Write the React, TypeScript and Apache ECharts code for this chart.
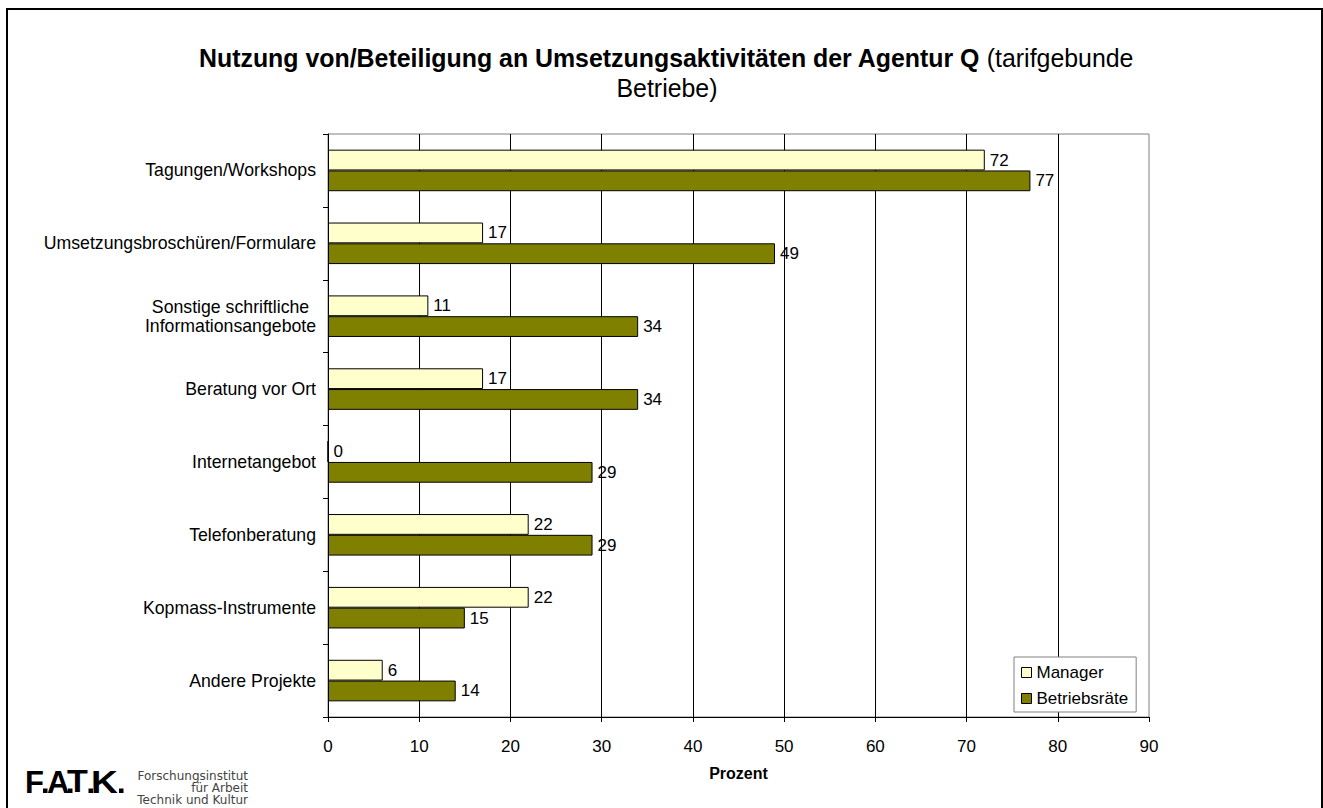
import React, { useEffect, useRef } from "react";
import * as echarts from "echarts";

const categories = [
  "Tagungen/Workshops",
  "Umsetzungsbroschüren/Formulare",
  "Sonstige schriftliche\nInformationsangebote",
  "Beratung vor Ort",
  "Internetangebot",
  "Telefonberatung",
  "Kopmass-Instrumente",
  "Andere Projekte",
];
const managerValues = [72, 17, 11, 17, 0, 22, 22, 6];
const betriebsraeteValues = [77, 49, 34, 34, 29, 29, 15, 14];
const seriesNames = ["Manager", "Betriebsräte"];
const xTicks = { min: 0, max: 90, interval: 10 };
const titleBold = "Nutzung von/Beteiligung an Umsetzungsaktivitäten der Agentur Q";
const titleNormal = " (tarifgebunde";
const titleLine2 = "Betriebe)";
const axisName = "Prozent";
const logoLetters = ["F", "A", "T", "K"];
const logoLines = ["Forschungsinstitut", "für Arbeit", "Technik und Kultur"];

const FONT = "'Liberation Sans', Arial, sans-serif";

export default function App() {
  const ref = useRef<HTMLDivElement>(null);
  useEffect(() => {
    if (!ref.current) return;
    const chart = echarts.init(ref.current, null, { renderer: "svg" });
    const letterX = [25, 47, 67, 91];
    const letterScale = [1.0, 1.0, 1.1, 1.2];
    const dotX = [43, 68, 88.5, 119];
    const option: any = {
      animation: false,
      backgroundColor: "#fff",
      textStyle: { fontFamily: FONT, color: "#000" },
      grid: {
        left: 328,
        top: 134,
        width: 821,
        height: 583,
        show: true,
        borderColor: "#808080",
        borderWidth: 1,
        backgroundColor: "transparent",
      },
      xAxis: {
        type: "value",
        min: xTicks.min,
        max: xTicks.max,
        interval: xTicks.interval,
        name: axisName,
        nameLocation: "middle",
        nameGap: 48,
        nameTextStyle: { fontFamily: FONT, fontWeight: "bold", fontSize: 16, color: "#000" },
        axisLine: { show: true, lineStyle: { color: "#000", width: 1 } },
        axisTick: { show: true, length: 5, lineStyle: { color: "#000" } },
        axisLabel: { fontFamily: FONT, fontSize: 17, color: "#000", margin: 21 },
        splitLine: {
          show: true,
          showMinLine: false,
          showMaxLine: false,
          lineStyle: { color: "#000", width: 1 },
        },
      },
      yAxis: {
        type: "category",
        inverse: true,
        data: categories,
        axisLine: { show: true, lineStyle: { color: "#000", width: 1 } },
        axisTick: { show: true, length: 5, lineStyle: { color: "#000" } },
        axisLabel: {
          fontFamily: FONT,
          fontSize: 17.7,
          color: "#000",
          margin: 12,
          formatter: (v: string) =>
            v.includes("\n") ? v.split("\n").map((s) => `{c|${s}}`).join("\n") : v,
          rich: {
            c: { width: 171, align: "center", fontFamily: FONT, fontSize: 17.7, color: "#000", lineHeight: 19 },
          },
        },
        splitLine: { show: false },
      },
      legend: {
        orient: "vertical",
        left: 1014,
        top: 657,
        data: seriesNames,
        backgroundColor: "#fff",
        borderColor: "#808080",
        borderWidth: 1,
        padding: [7, 8, 5, 7],
        itemWidth: 10,
        itemHeight: 10,
        itemGap: 9,
        icon: "rect",
        itemStyle: { borderColor: "#000", borderWidth: 1 },
        textStyle: { fontFamily: FONT, fontSize: 17, color: "#000" },
      },
      series: [
        {
          name: seriesNames[0],
          type: "bar",
          data: managerValues,
          barGap: "0%",
          barCategoryGap: "43%",
          itemStyle: { color: "#FFFFCC", borderColor: "#000", borderWidth: 1 },
          label: { show: true, position: "right", distance: 5, fontFamily: FONT, fontSize: 17, color: "#000" },
        },
        {
          name: seriesNames[1],
          type: "bar",
          data: betriebsraeteValues,
          barGap: "0%",
          barCategoryGap: "43%",
          itemStyle: { color: "#808000", borderColor: "#000", borderWidth: 1 },
          label: { show: true, position: "right", distance: 5, fontFamily: FONT, fontSize: 17, color: "#000" },
        },
      ],
      graphic: [
        {
          type: "rect",
          shape: { x: 7, y: 9, width: 1315, height: 830 },
          style: { fill: "none", stroke: "#000", lineWidth: 2 },
          silent: true,
        },
        {
          type: "text",
          x: 666,
          y: 58,
          style: {
            text: `{b|${titleBold}}{n|${titleNormal}}`,
            align: "center",
            verticalAlign: "middle",
            rich: {
              b: { fontFamily: FONT, fontWeight: "bold", fontSize: 24.9, fill: "#000" },
              n: { fontFamily: FONT, fontWeight: "normal", fontSize: 24.9, fill: "#000" },
            },
          },
        },
        {
          type: "text",
          x: 667,
          y: 88,
          style: {
            text: titleLine2,
            align: "center",
            verticalAlign: "middle",
            fontFamily: FONT,
            fontSize: 24.9,
            fill: "#000",
          },
        },
        ...logoLetters.map((l, i) => ({
          type: "text",
          x: letterX[i],
          y: 782,
          scaleX: letterScale[i],
          style: {
            text: l,
            fontFamily: FONT,
            fontWeight: "bold",
            fontSize: 31,
            fill: "#000",
            align: "left",
            verticalAlign: "middle",
          },
        })),
        ...dotX.map((dx) => ({
          type: "rect",
          shape: { x: dx, y: 788.5, width: 4.5, height: 4.5 },
          style: { fill: "#000" },
        })),
        ...logoLines.map((t, i) => ({
          type: "text",
          x: 248,
          y: 776 + i * 12,
          style: {
            text: t,
            fontFamily: "'DejaVu Sans', sans-serif",
            fontSize: 12,
            fill: "#444",
            align: "right",
            verticalAlign: "middle",
          },
        })),
      ],
    };
    chart.setOption(option);
    return () => chart.dispose();
  }, []);
  return (
    <div
      ref={ref}
      style={{ position: "absolute", left: 0, top: 0, width: 1323, height: 808 }}
    />
  );
}
